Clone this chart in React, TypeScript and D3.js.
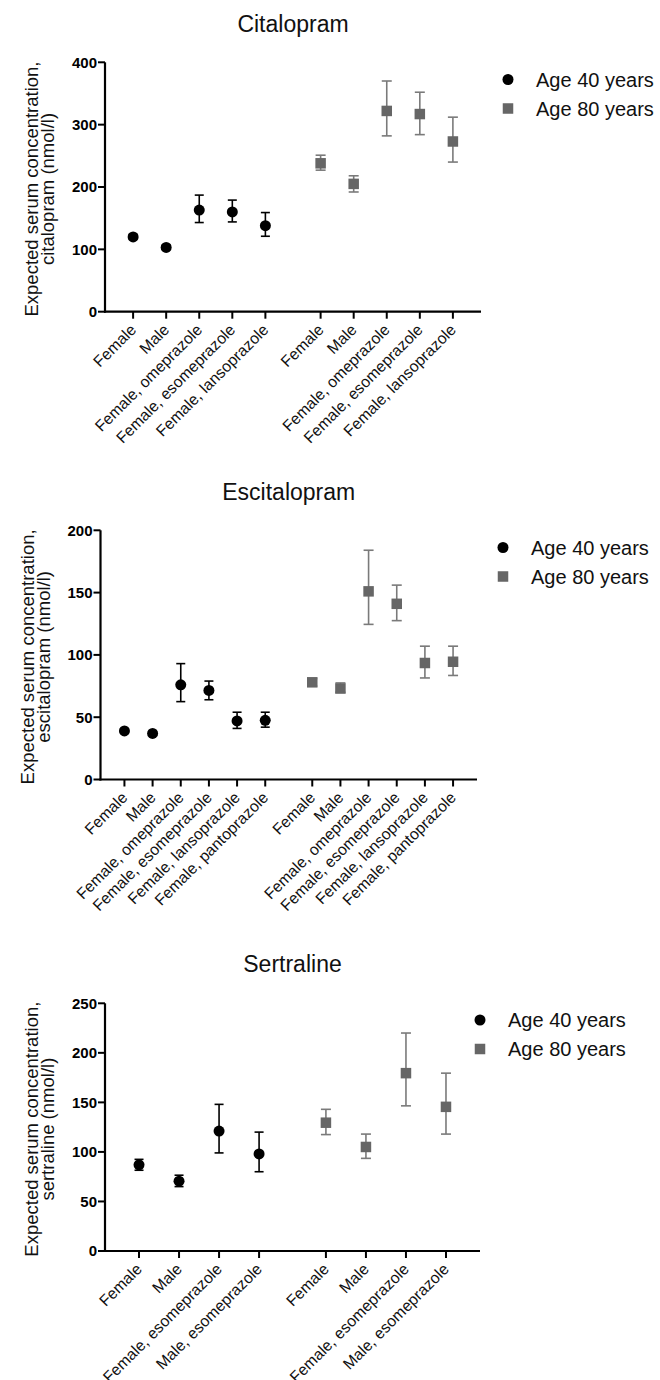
import React from 'react';
import * as d3 from 'd3';

// ---------- DATA ----------
const legendLabels = ['Age 40 years', 'Age 80 years'];
const panelTitles = ['Citalopram', 'Escitalopram', 'Sertraline'];
const yTitleLine1 = 'Expected serum concentration,';
const yTitleLine2 = ['citalopram (nmol/l)', 'escitalopram (nmol/l)', 'sertraline (nmol/l)'];
const yMaxes = [400, 200, 250];
const yTickSteps = [100, 50, 50];

const citalopramCategories = ['Female', 'Male', 'Female, omeprazole', 'Female, esomeprazole', 'Female, lansoprazole'];
const citalopramAge40Mean = [120, 103, 163, 160, 138];
const citalopramAge40Lower = [116, 100, 143, 144, 121];
const citalopramAge40Upper = [124, 107, 187, 179, 159];
const citalopramAge80Mean = [238, 205, 322, 317, 273];
const citalopramAge80Lower = [227, 192, 282, 284, 240];
const citalopramAge80Upper = [251, 218, 370, 352, 312];

const escitalopramCategories = ['Female', 'Male', 'Female, omeprazole', 'Female, esomeprazole', 'Female, lansoprazole', 'Female, pantoprazole'];
const escitalopramAge40Mean = [39, 37, 76, 71.5, 47, 47.5];
const escitalopramAge40Lower = [37.5, 35.5, 62.5, 64, 41, 42];
const escitalopramAge40Upper = [40.5, 38.5, 93, 79, 54, 54];
const escitalopramAge80Mean = [78, 73, 151, 141, 93.5, 94.5];
const escitalopramAge80Lower = [75, 70, 124.5, 127.5, 81.5, 83.5];
const escitalopramAge80Upper = [81, 77.5, 184, 156, 107, 107];

const sertralineCategories = ['Female', 'Male', 'Female, esomeprazole', 'Male, esomeprazole'];
const sertralineAge40Mean = [87, 70.5, 121, 98];
const sertralineAge40Lower = [81.5, 65, 99, 80];
const sertralineAge40Upper = [92.5, 76.5, 148, 120];
const sertralineAge80Mean = [129.5, 105, 179.5, 145.5];
const sertralineAge80Lower = [117.5, 93.5, 146.5, 118];
const sertralineAge80Upper = [143, 118, 220, 179.5];

// ---------- LAYOUT ----------
const layouts = [
  { axisX: 105, axisRight: 481, y0: 311.7, yTop: 62.3, titleY: 32, legendX: 508, legendY: 79.5 },
  { axisX: 100.5, axisRight: 477, y0: 779.5, yTop: 530.3, titleY: 500, legendX: 503, legendY: 547.5 },
  { axisX: 105, axisRight: 480, y0: 1251, yTop: 1003.3, titleY: 972, legendX: 480, legendY: 1020 },
];

const FONT = '"Liberation Sans", Arial, Helvetica, sans-serif';
const BLACK = '#000';
const GRAY = '#666';
const GRAY_BAR = '#7a7a7a';

type PanelProps = {
  idx: number;
  categories: string[];
  m40: number[]; l40: number[]; u40: number[];
  m80: number[]; l80: number[]; u80: number[];
};

function Panel({ idx, categories, m40, l40, u40, m80, l80, u80 }: PanelProps) {
  const L = layouts[idx];
  const n = categories.length;
  const offset = n + 0.67;
  const pad = 0.85;
  const x = d3.scaleLinear().domain([-pad, offset + n - 1 + pad]).range([L.axisX, L.axisRight]);
  const y = d3.scaleLinear().domain([0, yMaxes[idx]]).range([L.y0, L.yTop]);
  const yTicks = d3.range(0, yMaxes[idx] + 1, yTickSteps[idx]);
  const pos40 = categories.map((_, i) => x(i));
  const pos80 = categories.map((_, i) => x(offset + i));
  const allPos = [...pos40, ...pos80];
  const allLabels = [...categories, ...categories];
  const cy = (L.y0 + L.yTop) / 2;
  const r = 5.5;
  const sq = 10.5;

  return (
    <g>
      <text x={(L.axisX + L.axisRight) / 2} y={L.titleY} textAnchor="middle" fontSize={23} fontFamily={FONT} fill="#111">
        {panelTitles[idx]}
      </text>
      {/* y axis title */}
      <text transform={`translate(${L.axisX - 67},${cy + 2}) rotate(-90)`} textAnchor="middle" fontSize={18.5} fontFamily={FONT} fill="#111">
        {yTitleLine1}
      </text>
      <text transform={`translate(${L.axisX - 51},${cy + 2}) rotate(-90)`} textAnchor="middle" fontSize={18.5} fontFamily={FONT} fill="#111">
        {yTitleLine2[idx]}
      </text>
      {/* y axis */}
      <line x1={L.axisX} x2={L.axisX} y1={L.y0 + 1} y2={L.yTop} stroke={BLACK} strokeWidth={2.2} />
      {yTicks.map(t => (
        <g key={t}>
          <line x1={L.axisX - 7} x2={L.axisX} y1={y(t)} y2={y(t)} stroke={BLACK} strokeWidth={2} />
          <text x={L.axisX - 8} y={y(t)} dy="0.36em" textAnchor="end" fontSize={15} fontWeight="bold" fontFamily={FONT} fill={BLACK}>
            {t}
          </text>
        </g>
      ))}
      {/* x axis */}
      <line x1={L.axisX - 1} x2={L.axisRight} y1={L.y0} y2={L.y0} stroke={BLACK} strokeWidth={2.2} />
      {allPos.map((px, i) => (
        <g key={i}>
          <line x1={px} x2={px} y1={L.y0} y2={L.y0 + 7} stroke={BLACK} strokeWidth={2} />
          <text transform={`translate(${px + 4},${L.y0 + 19}) rotate(-45)`} textAnchor="end" fontSize={15.8} fontFamily={FONT} fill="#111">
            {allLabels[i]}
          </text>
        </g>
      ))}
      {/* age 40 */}
      {pos40.map((px, i) => (
        <g key={'a' + i}>
          <line x1={px} x2={px} y1={y(l40[i])} y2={y(u40[i])} stroke={BLACK} strokeWidth={1.6} />
          <line x1={px - 4.5} x2={px + 4.5} y1={y(l40[i])} y2={y(l40[i])} stroke={BLACK} strokeWidth={1.6} />
          <line x1={px - 4.5} x2={px + 4.5} y1={y(u40[i])} y2={y(u40[i])} stroke={BLACK} strokeWidth={1.6} />
          <circle cx={px} cy={y(m40[i])} r={r} fill={BLACK} />
        </g>
      ))}
      {/* age 80 */}
      {pos80.map((px, i) => (
        <g key={'b' + i}>
          <line x1={px} x2={px} y1={y(l80[i])} y2={y(u80[i])} stroke={GRAY_BAR} strokeWidth={1.6} />
          <line x1={px - 5} x2={px + 5} y1={y(l80[i])} y2={y(l80[i])} stroke={GRAY_BAR} strokeWidth={1.6} />
          <line x1={px - 5} x2={px + 5} y1={y(u80[i])} y2={y(u80[i])} stroke={GRAY_BAR} strokeWidth={1.6} />
          <rect x={px - sq / 2} y={y(m80[i]) - sq / 2} width={sq} height={sq} fill={GRAY} />
        </g>
      ))}
      {/* legend */}
      <circle cx={L.legendX} cy={L.legendY} r={r} fill={BLACK} />
      <text x={L.legendX + 28} y={L.legendY} dy="0.36em" fontSize={20} fontFamily={FONT} fill="#111">{legendLabels[0]}</text>
      <rect x={L.legendX - sq / 2} y={L.legendY + 29 - sq / 2} width={sq} height={sq} fill={GRAY} />
      <text x={L.legendX + 28} y={L.legendY + 29} dy="0.36em" fontSize={20} fontFamily={FONT} fill="#111">{legendLabels[1]}</text>
    </g>
  );
}

export default function App() {
  return (
    <svg width={660} height={1380} style={{ position: 'absolute', left: 0, top: 0, background: '#fff' }}>
      <rect width={660} height={1380} fill="#fff" />
      <Panel idx={0} categories={citalopramCategories}
        m40={citalopramAge40Mean} l40={citalopramAge40Lower} u40={citalopramAge40Upper}
        m80={citalopramAge80Mean} l80={citalopramAge80Lower} u80={citalopramAge80Upper} />
      <Panel idx={1} categories={escitalopramCategories}
        m40={escitalopramAge40Mean} l40={escitalopramAge40Lower} u40={escitalopramAge40Upper}
        m80={escitalopramAge80Mean} l80={escitalopramAge80Lower} u80={escitalopramAge80Upper} />
      <Panel idx={2} categories={sertralineCategories}
        m40={sertralineAge40Mean} l40={sertralineAge40Lower} u40={sertralineAge40Upper}
        m80={sertralineAge80Mean} l80={sertralineAge80Lower} u80={sertralineAge80Upper} />
    </svg>
  );
}
